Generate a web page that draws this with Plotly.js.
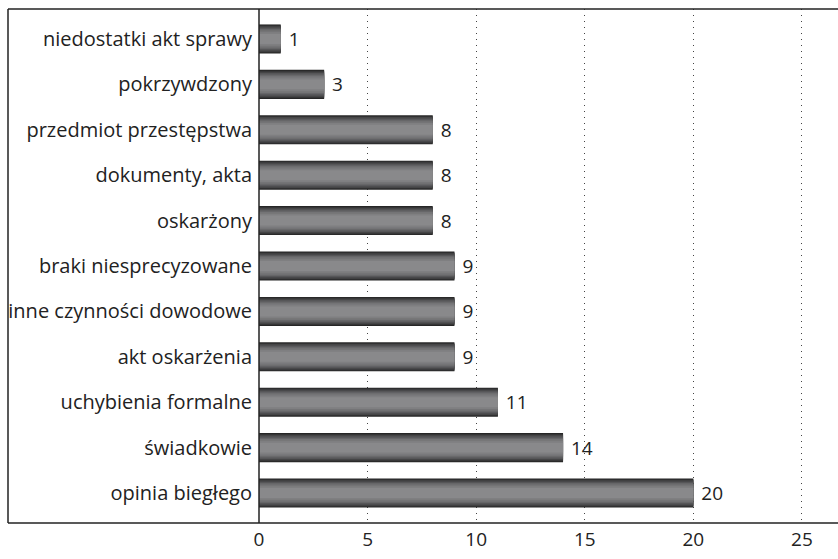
<!DOCTYPE html>
<html><head><meta charset="utf-8">
<script src="https://cdn.plot.ly/plotly-3.0.1.min.js"></script>
<style>html,body{margin:0;padding:0;background:#fff}#c{width:838px;height:559px}</style>
</head><body><div id="c"></div>
<script>
const categories = ["niedostatki akt sprawy","pokrzywdzony","przedmiot przestępstwa","dokumenty, akta","oskarżony","braki niesprecyzowane","inne czynności dowodowe","akt oskarżenia","uchybienia formalne","świadkowie","opinia biegłego"];
const values = [1,3,8,8,8,9,9,9,11,14,20];
const xTicks = [0,5,10,15,20,25];

// cylinder-like shading with stacked overlay layers
const layerWidths = [0.64,0.6,0.56,0.5,0.44,0.38,0.3,0.22];
const layerColors = ["#262626","#353536","#454546","#565658","#666668","#747476","#7f7f81","#89898b"];

const traces = layerWidths.map((w,i)=>({
  type:'bar', orientation:'h', y:categories, x:values,
  width: categories.map(()=>w),
  marker:{color:layerColors[i], line:{width:0}},
  hoverinfo:'skip',
  text: i===0 ? values.map(v=>' '+v) : undefined,
  textposition: i===0 ? 'outside' : 'none',
  textfont:{family:'Open Sans, sans-serif', size:19, color:'#222'},
  cliponaxis:false
}));

const lineC = '#222';
const left = -251/579;
const layout = {
  width:838, height:559,
  margin:{l:259, r:0, t:9, b:36},
  barmode:'overlay',
  showlegend:false,
  paper_bgcolor:'#fff', plot_bgcolor:'#fff',
  font:{family:'Open Sans, sans-serif', color:'#222'},
  xaxis:{range:[0,26.66], tickvals:xTicks, ticktext:xTicks.map(String),
    showgrid:true, gridcolor:'#444', griddash:'1px,5px', gridwidth:1,
    zeroline:false, showline:false, ticks:'', ticklabelstandoff:3,
    tickfont:{size:19, color:'#222'}},
  yaxis:{type:'category', range:[10.66,-0.66], showgrid:false, zeroline:false,
    showline:false, ticks:'', ticklabelstandoff:6, tickfont:{size:20, color:'#222'}},
  shapes:[
    {type:'line', xref:'paper', yref:'paper', x0:left, x1:1, y0:1, y1:1, line:{color:lineC, width:1.5}},
    {type:'line', xref:'paper', yref:'paper', x0:left, x1:1, y0:0, y1:0, line:{color:lineC, width:1.5}},
    {type:'line', xref:'paper', yref:'paper', x0:left, x1:left, y0:0, y1:1, line:{color:lineC, width:1.5}},
    {type:'line', xref:'paper', yref:'paper', x0:0, x1:0, y0:0, y1:1, line:{color:lineC, width:1.5}}
  ]
};
Plotly.newPlot('c', traces, layout, {staticPlot:true});
</script></body></html>
